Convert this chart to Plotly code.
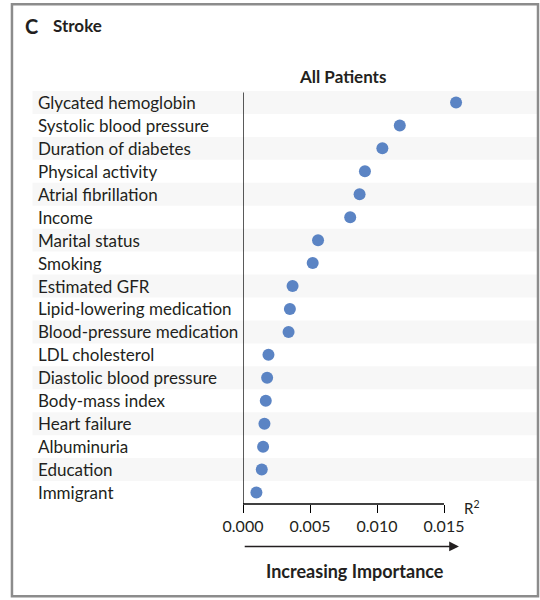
import plotly.graph_objects as go

categories = ["Glycated hemoglobin", "Systolic blood pressure", "Duration of diabetes",
              "Physical activity", "Atrial fibrillation", "Income", "Marital status",
              "Smoking", "Estimated GFR", "Lipid-lowering medication",
              "Blood-pressure medication", "LDL cholesterol", "Diastolic blood pressure",
              "Body-mass index", "Heart failure", "Albuminuria", "Education", "Immigrant"]
r2_values = [0.0159, 0.0117, 0.0104, 0.0091, 0.0087, 0.0080, 0.0056, 0.0052, 0.0037,
             0.0035, 0.0034, 0.0019, 0.0018, 0.0017, 0.0016, 0.0015, 0.0014, 0.0010]
x_tickvals = [0.0, 0.005, 0.010, 0.015]
x_ticktext = ["0.000", "0.005", "0.010", "0.015"]

W, H = 540, 600
L, T = 243.3, 90.5
pw = 537 - L
ph = 504.5 - T
R = W - L - pw
B = H - T - ph
xmax = 0.015 * pw / 200.8

def px(xp):
    return (xp - L) / pw

def py(yp):
    return (T + ph - yp) / ph

FONT = "Lato"
TXT = "#231f20"

fig = go.Figure()
fig.add_trace(go.Scatter(
    x=r2_values, y=categories, mode="markers",
    marker=dict(size=12, color="#5b84c4"), cliponaxis=False, showlegend=False,
    hoverinfo="skip"))

shapes = []
for i in range(0, len(categories), 2):
    shapes.append(dict(type="rect", xref="paper", yref="y", x0=px(33), x1=px(537),
                       y0=i - 0.5, y1=i + 0.5, fillcolor="#f7f7f7", line=dict(width=0),
                       layer="below"))
# axis lines
shapes.append(dict(type="line", xref="x", yref="paper", x0=0, x1=0, y0=0, y1=py(92),
                   line=dict(color="black", width=1.3)))
shapes.append(dict(type="line", xref="x", yref="paper", x0=0, x1=0.015, y0=0, y1=0,
                   line=dict(color="black", width=1.3)))
# border
shapes.append(dict(type="rect", xref="paper", yref="paper", x0=px(12.5), x1=px(538),
                   y0=py(597), y1=py(3.5), line=dict(color="#8c8c8c", width=2.5)))

annotations = []
for c in categories:
    annotations.append(dict(xref="paper", yref="y", x=px(37), y=c, text=c, showarrow=False,
                            xanchor="left", yanchor="middle",
                            font=dict(family=FONT, size=17, color=TXT)))
annotations += [
    dict(xref="paper", yref="paper", x=px(24), y=py(25), text="<b>C</b>", showarrow=False,
         xanchor="left", yanchor="middle", font=dict(family=FONT, size=20, color=TXT)),
    dict(xref="paper", yref="paper", x=px(51), y=py(25), text="<b>Stroke</b>", showarrow=False,
         xanchor="left", yanchor="middle", font=dict(family=FONT, size=17, color=TXT)),
    dict(xref="paper", yref="paper", x=px(343), y=py(76), text="<b>All Patients</b>",
         showarrow=False, xanchor="center", yanchor="middle",
         font=dict(family=FONT, size=17, color=TXT)),
    dict(xref="paper", yref="paper", x=px(462), y=py(508), text="R<sup>2</sup>",
         showarrow=False, xanchor="left", yanchor="middle",
         font=dict(family=FONT, size=15, color=TXT)),
    dict(xref="paper", yref="paper", x=px(355), y=py(572), text="<b>Increasing Importance</b>",
         showarrow=False, xanchor="center", yanchor="middle",
         font=dict(family=FONT, size=18, color=TXT)),
    dict(xref="paper", yref="paper", x=px(459), y=py(547), ax=-(459 - 243.3), ay=0,
         axref="pixel", ayref="pixel", text="", showarrow=True, arrowhead=2,
         arrowsize=1.3, arrowwidth=1.5, arrowcolor="#231f20"),
]

fig.update_layout(
    width=W, height=H, margin=dict(l=L, r=R, t=T, b=B, autoexpand=False),
    paper_bgcolor="white", plot_bgcolor="rgba(0,0,0,0)",
    shapes=shapes, annotations=annotations, hovermode=False,
    xaxis=dict(range=[0, xmax], tickvals=x_tickvals, ticktext=x_ticktext,
               ticks="outside", ticklen=8, tickwidth=1.3, tickcolor="black",
               showgrid=False, zeroline=False, showline=False,
               tickfont=dict(family=FONT, size=16, color=TXT)),
    yaxis=dict(categoryorder="array", categoryarray=categories,
               range=[len(categories) - 0.5, -0.5], showticklabels=False,
               showgrid=False, zeroline=False, showline=False, ticks=""),
)

fig.write_html("out.html", config={"displayModeBar": False},
               post_script="document.body.style.margin='0';document.body.style.overflow='hidden';")
